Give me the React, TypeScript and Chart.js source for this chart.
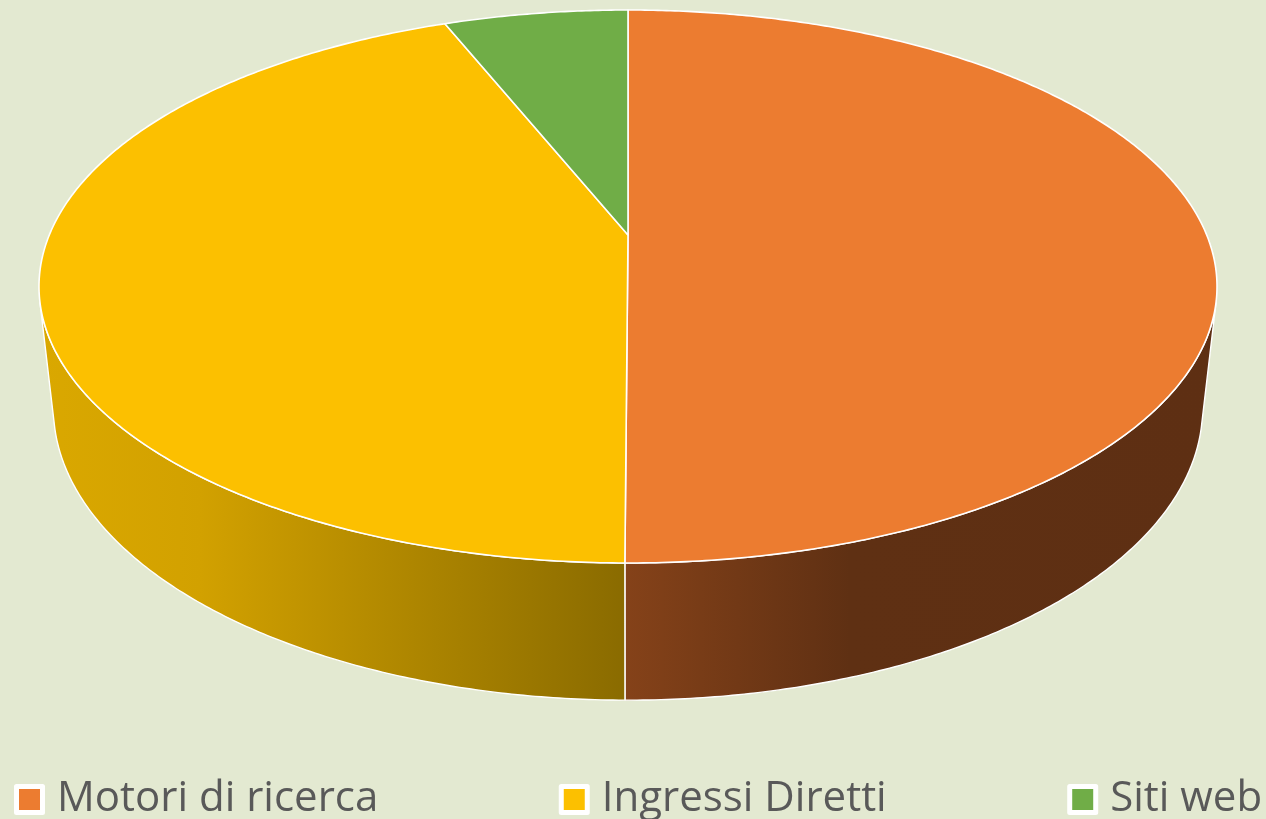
import React, { useEffect, useRef } from "react";
import { Chart, registerables } from "chart.js";

Chart.register(...registerables);

const categories = ["Motori di ricerca", "Ingressi Diretti", "Siti web"];
const shares = [50.07, 43.88, 6.05];
const sliceColors = ["#EC7C30", "#FCC000", "#70AD47"];
const wallGradients: [number, string][][] = [
  [[625, "#854219"], [850, "#5F3013"], [1217, "#5E2F13"]],
  [[40, "#DAA800"], [200, "#D2A100"], [625, "#8A6B00"]],
  [[445, "#3F6A28"], [628, "#3F6A28"]],
];
const BACKGROUND = "#E3E9D1";
const LEGEND_TEXT = "#595959";

// Perspective projection of the pie's unit disk (z = 0 top, z = 1 bottom).
const VIEW = { x0: 628, y0: 235, a: 578.7, b: 266.9, k: 0.18626, m: 0.02426, c: 122.9 };
const project = (angle: number, z: number) => {
  const u = Math.cos(angle);
  const v = Math.sin(angle);
  const w = 1 - VIEW.k * v + VIEW.m * z;
  return [VIEW.x0 + (VIEW.a * u) / w, VIEW.y0 + (VIEW.b * v + VIEW.c * z) / w];
};
const STEP = Math.PI / 360;
const sweep = (from: number, to: number) => {
  const n = Math.max(1, Math.ceil((to - from) / STEP));
  const out: number[] = [];
  for (let i = 0; i <= n; i++) out.push(from + ((to - from) * i) / n);
  return out;
};
// Angle on the right-hand side where a vertical edge of the wall just grazes the disk.
const silhouetteAngle = () => {
  const vy = VIEW.y0 + VIEW.c / VIEW.m;
  let best = 0;
  let bestRatio = -Infinity;
  sweep(0, Math.PI / 2).forEach((t) => {
    const p = project(t, 0);
    const ratio = (p[0] - VIEW.x0) / (vy - p[1]);
    if (ratio > bestRatio) {
      bestRatio = ratio;
      best = t;
    }
  });
  return best;
};

const LEGEND = { x: 23, y: 778.5, gap: 189.5 };

const pie3d = {
  id: "pie3d",
  afterLayout(chart: any) {
    const l = chart.legend;
    if (!l) return;
    const pad = l.options.labels.padding;
    l.left = LEGEND.x - pad;
    l.right = 4000;
    l.top = LEGEND.y - pad;
    l.bottom = 900;
  },
  beforeDatasetDraw(chart: any, args: any) {
    const ctx = chart.ctx;
    const arcs = args.meta.data;
    const edge = silhouetteAngle();
    ctx.save();
    ctx.lineJoin = "round";
    ctx.strokeStyle = "#FFFFFF";
    arcs.forEach((arc: any, i: number) => {
      const from = Math.max(arc.startAngle, edge);
      const to = Math.min(arc.endAngle, Math.PI - edge);
      if (to <= from) return;
      const stops = wallGradients[i];
      const g = ctx.createLinearGradient(stops[0][0], 0, stops[stops.length - 1][0], 0);
      const span = stops[stops.length - 1][0] - stops[0][0];
      stops.forEach(([x, col]) => g.addColorStop((x - stops[0][0]) / span, col));
      const angles = sweep(from, to);
      ctx.beginPath();
      angles.forEach((t, j) => {
        const p = project(t, 0);
        j ? ctx.lineTo(p[0], p[1]) : ctx.moveTo(p[0], p[1]);
      });
      angles.slice().reverse().forEach((t) => {
        const p = project(t, 1);
        ctx.lineTo(p[0], p[1]);
      });
      ctx.closePath();
      ctx.fillStyle = g;
      ctx.fill();
      ctx.lineWidth = 1.4;
      ctx.stroke();
    });
    arcs.forEach((arc: any, i: number) => {
      ctx.beginPath();
      ctx.moveTo(VIEW.x0, VIEW.y0);
      sweep(arc.startAngle, arc.endAngle).forEach((t) => {
        const p = project(t, 0);
        ctx.lineTo(p[0], p[1]);
      });
      ctx.closePath();
      ctx.fillStyle = sliceColors[i];
      ctx.fill();
      ctx.lineWidth = 1.6;
      ctx.stroke();
    });
    ctx.restore();
    return false;
  },
};

export default function App() {
  const ref = useRef<HTMLCanvasElement>(null);
  useEffect(() => {
    document.body.style.margin = "0";
    document.body.style.background = BACKGROUND;
    const chart = new Chart(ref.current as HTMLCanvasElement, {
      type: "pie",
      data: {
        labels: categories,
        datasets: [
          {
            data: shares,
            backgroundColor: sliceColors,
            borderColor: "#FFFFFF",
            borderWidth: 5,
          },
        ],
      },
      options: {
        responsive: false,
        animation: false,
        layout: { padding: 0 },
        plugins: {
          tooltip: { enabled: false },
          title: { display: false },
          legend: {
            display: true,
            position: "bottom",
            align: "start",
            maxHeight: 60,
            labels: {
              usePointStyle: true,
              pointStyle: "rect",
              boxWidth: 13,
              boxHeight: 26,
              padding: LEGEND.gap,
              color: LEGEND_TEXT,
              font: { family: "'Open Sans', sans-serif", size: 42 },
              generateLabels: (c: any) =>
                (Chart as any).overrides.pie.plugins.legend.labels
                  .generateLabels(c)
                  .map((it: any) => ({ ...it, lineJoin: "round" })),
            },
          },
        },
      } as any,
      plugins: [pie3d as any],
    });
    return () => chart.destroy();
  }, []);
  return (
    <div style={{ width: 1266, height: 819, background: BACKGROUND, overflow: "hidden" }}>
      <canvas ref={ref} width={1266} height={819} style={{ display: "block" }} />
    </div>
  );
}
